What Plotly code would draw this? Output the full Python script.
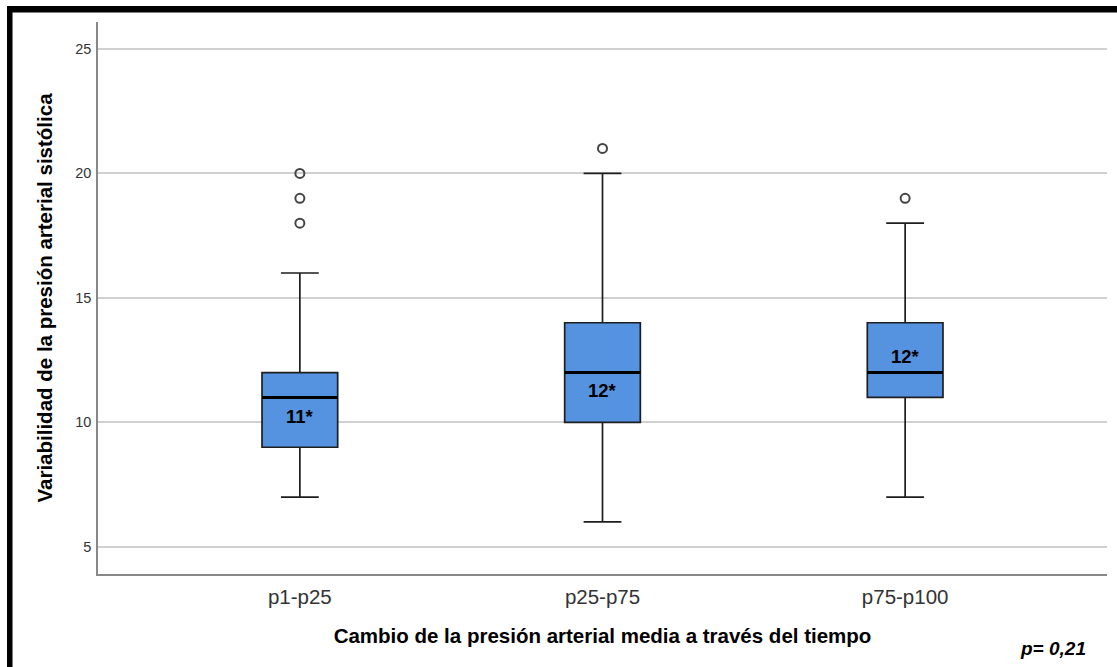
import plotly.graph_objects as go

# Cambio de la presión arterial media (grupos por percentil)
categories = ["p1-p25", "p25-p75", "p75-p100"]
lower_whisker = [7, 6, 7]
q1 = [9, 10, 11]
median = [11, 12, 12]
q3 = [12, 14, 14]
upper_whisker = [16, 20, 18]
outliers = [[18, 19, 20], [21], [19]]
median_labels = ["11*", "12*", "12*"]
label_y = [10.25, 11.3, 12.65]
p_value_text = "p= 0,21"

y_ticks = [5, 10, 15, 20, 25]

W, H = 1117, 667
L, R, T, B = 98, 10, 22, 93
BOX_W = 0.25
FONT = "Liberation Sans, Arial, sans-serif"

fig = go.Figure()
xs = list(range(len(categories)))

for i in xs:
    fig.add_trace(go.Box(
        x=[i], q1=[q1[i]], median=[median[i]], q3=[q3[i]],
        lowerfence=[lower_whisker[i]], upperfence=[upper_whisker[i]],
        width=BOX_W, whiskerwidth=0.5,
        fillcolor="#5592E0", line=dict(color="#1E1E1E", width=1.7),
        boxpoints=False, hoverinfo="skip", showlegend=False,
    ))

# thick median bars
mx, my = [], []
for i in xs:
    mx += [i - BOX_W / 2, i + BOX_W / 2, None]
    my += [median[i], median[i], None]
fig.add_trace(go.Scatter(x=mx, y=my, mode="lines",
                         line=dict(color="black", width=3),
                         hoverinfo="skip", showlegend=False))

# outliers
ox, oy = [], []
for i in xs:
    for v in outliers[i]:
        ox.append(i)
        oy.append(v)
fig.add_trace(go.Scatter(x=ox, y=oy, mode="markers",
                         marker=dict(symbol="circle-open", size=9,
                                     color="#444444", line=dict(width=2)),
                         hoverinfo="skip", showlegend=False))

for i in xs:
    fig.add_annotation(x=i, y=label_y[i], text=median_labels[i], showarrow=False,
                       font=dict(family=FONT, size=18.5, color="black", weight="bold"))

pw, ph = W - L - R, H - T - B
def px_x(p):
    return (p - L) / pw
def px_y(p):
    return (H - B - p) / ph

fig.add_annotation(xref="paper", yref="paper",
                   x=px_x(1088), y=px_y(648),
                   xanchor="right", yanchor="middle", showarrow=False,
                   text="<b><i>" + p_value_text + "</i></b>",
                   font=dict(family=FONT, size=19, color="black"))

# black frame (top and left)
fig.add_shape(type="rect", xref="paper", yref="paper",
              x0=px_x(7), x1=px_x(W + 5), y0=px_y(12.5), y1=px_y(6),
              fillcolor="black", line=dict(width=0), layer="above")
fig.add_shape(type="rect", xref="paper", yref="paper",
              x0=px_x(7), x1=px_x(12.5), y0=px_y(H + 5), y1=px_y(6),
              fillcolor="black", line=dict(width=0), layer="above")

fig.update_layout(
    width=W, height=H,
    margin=dict(l=L, r=R, t=T, b=B),
    paper_bgcolor="white", plot_bgcolor="white",
    font=dict(family=FONT, color="#333333"),
    xaxis=dict(
        range=[-0.667, 2.667], tickvals=xs, ticktext=categories,
        showgrid=False, zeroline=False,
        showline=True, linecolor="#888888", linewidth=1.5,
        ticks="outside", ticklen=4, tickcolor="rgba(0,0,0,0)",
        tickfont=dict(size=20.5, color="#333333"),
        title=dict(text="<b>Cambio de la presión arterial media a través del tiempo</b>",
                   font=dict(size=20.5, color="black"), standoff=21),
    ),
    yaxis=dict(
        range=[3.91, 26.08], tickvals=y_ticks,
        showgrid=True, gridcolor="#D0D0D0", gridwidth=1.5,
        zeroline=False,
        showline=True, linecolor="#888888", linewidth=1.5,
        ticks="outside", ticklen=2, tickcolor="rgba(0,0,0,0)",
        tickfont=dict(size=14.5, color="#333333"),
        title=dict(text="<b>Variabilidad de la presión arterial sistólica</b>",
                   font=dict(size=20.5, color="black"), standoff=17),
    ),
)

fig.write_html("out.html")
